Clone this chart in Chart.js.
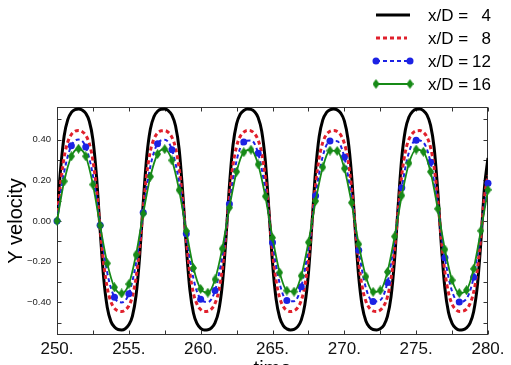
<!DOCTYPE html>
<html>
<head>
<meta charset="utf-8">
<script src="https://cdn.jsdelivr.net/npm/chart.js@4.4.0/dist/chart.umd.min.js"></script>
<style>
html,body{margin:0;padding:0;background:#fff;}
#wrap{width:511px;height:365px;position:relative;overflow:hidden;}
canvas{display:block;}
</style>
</head>
<body>
<div id="wrap"><canvas id="c" width="511" height="365"></canvas></div>
<script>
// ---- data ----
const tFine = [
250,250.25,250.5,250.75,251,251.25,251.5,251.75,
252,252.25,252.5,252.75,253,253.25,253.5,253.75,
254,254.25,254.5,254.75,255,255.25,255.5,255.75,
256,256.25,256.5,256.75,257,257.25,257.5,257.75,
258,258.25,258.5,258.75,259,259.25,259.5,259.75,
260,260.25,260.5,260.75,261,261.25,261.5,261.75,
262,262.25,262.5,262.75,263,263.25,263.5,263.75,
264,264.25,264.5,264.75,265,265.25,265.5,265.75,
266,266.25,266.5,266.75,267,267.25,267.5,267.75,
268,268.25,268.5,268.75,269,269.25,269.5,269.75,
270,270.25,270.5,270.75,271,271.25,271.5,271.75,
272,272.25,272.5,272.75,273,273.25,273.5,273.75,
274,274.25,274.5,274.75,275,275.25,275.5,275.75,
276,276.25,276.5,276.75,277,277.25,277.5,277.75,
278,278.25,278.5,278.75,279,279.25,279.5,279.75,
280];
const tHalf = [
250,250.5,251,251.5,252,252.5,253,253.5,254,254.5,
255,255.5,256,256.5,257,257.5,258,258.5,259,259.5,
260,260.5,261,261.5,262,262.5,263,263.5,264,264.5,
265,265.5,266,266.5,267,267.5,268,268.5,269,269.5,
270,270.5,271,271.5,272,272.5,273,273.5,274,274.5,
275,275.5,276,276.5,277,277.5,278,278.5,279,279.5,
280];
const velXD4 = [
0.03,0.255,0.419,0.498,0.533,0.547,0.550,0.545,
0.529,0.490,0.400,0.220,-0.043,-0.281,-0.425,-0.493,
-0.521,-0.533,-0.535,-0.529,-0.510,-0.467,-0.367,-0.177,
0.088,0.319,0.452,0.513,0.539,0.549,0.550,0.542,
0.520,0.468,0.354,0.141,-0.127,-0.338,-0.453,-0.504,
-0.527,-0.535,-0.534,-0.525,-0.500,-0.443,-0.317,-0.096,
0.171,0.372,0.477,0.524,0.543,0.550,0.548,0.537,
0.508,0.441,0.296,0.055,-0.205,-0.384,-0.474,-0.514,
-0.530,-0.535,-0.532,-0.519,-0.487,-0.412,-0.257,-0.011,
0.247,0.415,0.497,0.532,0.546,0.550,0.546,0.530,
0.492,0.404,0.229,-0.033,-0.273,-0.420,-0.491,-0.521,
-0.533,-0.535,-0.529,-0.512,-0.469,-0.373,-0.186,0.077,
0.312,0.448,0.511,0.538,0.549,0.550,0.542,0.521,
0.471,0.360,0.151,-0.117,-0.331,-0.449,-0.503,-0.526,
-0.535,-0.534,-0.525,-0.502,-0.446,-0.324,-0.107,0.162,
0.310];
const velXD8 = [
0.01,0.184,0.315,0.388,0.425,0.441,0.445,0.439,
0.421,0.380,0.298,0.157,-0.031,-0.209,-0.330,-0.396,
-0.429,-0.442,-0.445,-0.437,-0.416,-0.370,-0.280,-0.130,
0.062,0.233,0.344,0.403,0.432,0.443,0.444,0.435,
0.411,0.359,0.260,0.100,-0.093,-0.255,-0.357,-0.409,
-0.435,-0.444,-0.443,-0.432,-0.405,-0.347,-0.239,-0.070,
0.122,0.275,0.367,0.415,0.437,0.445,0.443,0.429,
0.398,0.334,0.215,0.039,-0.151,-0.294,-0.377,-0.420,
-0.439,-0.445,-0.441,-0.426,-0.391,-0.319,-0.190,-0.008,
0.177,0.311,0.386,0.424,0.441,0.445,0.440,0.422,
0.382,0.302,0.164,-0.024,-0.203,-0.326,-0.394,-0.428,
-0.442,-0.445,-0.438,-0.417,-0.373,-0.285,-0.136,0.054,
0.227,0.341,0.402,0.431,0.443,0.444,0.436,0.412,
0.362,0.265,0.107,-0.085,-0.250,-0.353,-0.408,-0.434,
-0.444,-0.443,-0.433,-0.406,-0.350,-0.244,-0.078,0.115,
0.225];
const velXD12 = [
0,0.240,0.370,0.400,0.364,0.224,-0.021,-0.255,-0.375,-0.400,
-0.357,-0.207,0.042,0.269,0.380,0.399,0.350,0.190,-0.063,-0.283,
-0.384,-0.398,-0.342,-0.172,0.084,0.296,0.388,0.396,0.333,0.153,
-0.105,-0.307,-0.391,-0.394,-0.323,-0.134,0.124,0.318,0.393,0.392,
0.313,0.114,-0.144,-0.328,-0.396,-0.389,-0.302,-0.094,0.163,0.338,
0.397,0.386,0.289,0.074,-0.181,-0.346,-0.398,-0.382,-0.276,-0.053,
0.185];
const velXD16 = [
0,0.195,0.318,0.355,0.318,0.179,-0.022,-0.208,-0.326,-0.356,
-0.310,-0.166,0.036,0.218,0.329,0.353,0.298,0.152,-0.049,-0.231,
-0.334,-0.352,-0.287,-0.136,0.066,0.242,0.338,0.350,0.278,0.121,
-0.082,-0.253,-0.342,-0.347,-0.269,-0.105,0.098,0.264,0.346,0.344,
0.258,0.090,-0.114,-0.273,-0.348,-0.341,-0.250,-0.076,0.125,0.284,
0.351,0.340,0.242,0.060,-0.140,-0.291,-0.354,-0.340,-0.235,-0.048,
0.153];
const seriesLabels = ['x/D = 4','x/D = 8','x/D = 12','x/D = 16'];
const xTickValues = [250,252.5,255,257.5,260,262.5,265,267.5,270,272.5,275,277.5,280];
const xTickLabels = ['250.','','255.','','260.','','265.','','270.','','275.','','280.'];
const yTickValues = [-0.5,-0.4,-0.3,-0.2,-0.1,0,0.1,0.2,0.3,0.4,0.5];
const yTickLabels = ['','\u22120.40','','\u22120.20','','0.00','','0.20','','0.40',''];
const xTitle = 'time';
const yTitle = 'Y velocity';

// ---- styles ----
const FONT = '"Liberation Sans", Arial, Helvetica, sans-serif';
const COLORS = ['#000000','#e0202c','#1c22e4','#178a17'];

function makeDiamond(color){
  const c = document.createElement('canvas');
  c.width = 7; c.height = 10;
  const g = c.getContext('2d');
  g.fillStyle = color;
  g.beginPath();
  g.moveTo(3.5,0); g.lineTo(7,5); g.lineTo(3.5,10); g.lineTo(0,5);
  g.closePath(); g.fill();
  return c;
}
const diamond = makeDiamond(COLORS[3]);

function pts(xs, ys){ return xs.map((x,i)=>({x:x, y:ys[i]})); }

const frameTicks = {
  id:'frameTicks',
  beforeDatasetsDraw(chart){
    const {ctx, chartArea:{left,right,top,bottom}, scales:{x,y}} = chart;
    ctx.save();
    ctx.strokeStyle = '#333'; ctx.lineWidth = 1;
    const L = Math.round(left)+0.5, R = Math.round(right)-0.5, T = Math.round(top)+0.5, B = Math.round(bottom)-0.5;
    ctx.strokeRect(L, T, R-L, B-T);
    ctx.beginPath();
    xTickValues.forEach(v=>{
      const px = Math.round(x.getPixelForValue(v))+0.5;
      ctx.moveTo(px,B); ctx.lineTo(px,B-4);
      ctx.moveTo(px,T); ctx.lineTo(px,T+4);
    });
    yTickValues.forEach(v=>{
      const py = Math.round(y.getPixelForValue(v))+0.5;
      ctx.moveTo(L,py); ctx.lineTo(L+4,py);
      ctx.moveTo(R,py); ctx.lineTo(R-4,py);
    });
    ctx.stroke();
    ctx.restore();
  },
  afterDraw(chart){
    const {ctx, chartArea:{left,right}} = chart;
    ctx.save();
    // x axis title (cut by the bottom edge, as in the reference)
    ctx.fillStyle = '#000';
    ctx.font = '20px ' + FONT;
    ctx.textAlign = 'center'; ctx.textBaseline = 'alphabetic';
    ctx.fillText(xTitle, (left+right)/2, 375);
    // legend
    const x0 = 376, x1 = 410, tx = 428, nx = 491, y0 = 15, dy = 23;
    chart.data.datasets.forEach((ds,i)=>{
      const yy = y0 + i*dy;
      ctx.strokeStyle = ds.borderColor;
      ctx.lineWidth = ds.borderWidth;
      ctx.setLineDash(ds.borderDash || []);
      ctx.beginPath(); ctx.moveTo(x0, yy); ctx.lineTo(i===1 ? 407 : x1, yy); ctx.stroke();
      ctx.setLineDash([]);
      if (i === 2){
        ctx.fillStyle = ds.borderColor;
        [x0, x1].forEach(px=>{ ctx.beginPath(); ctx.arc(px, yy, 3.5, 0, Math.PI*2); ctx.fill(); });
      } else if (i === 3){
        [x0, x1].forEach(px=>{ ctx.drawImage(diamond, px-3.5, yy-5); });
      }
      const parts = ds.label.split(' = ');
      ctx.fillStyle = '#000';
      ctx.font = '17px ' + FONT;
      ctx.textBaseline = 'middle';
      ctx.textAlign = 'left';
      ctx.fillText(parts[0] + ' =', tx, yy + 1);
      ctx.textAlign = 'right';
      ctx.fillText(parts[1], nx, yy + 1);
    });
    ctx.restore();
  }
};

new Chart(document.getElementById('c'), {
  type:'line',
  data:{
    datasets:[
      { label: seriesLabels[0], data: pts(tFine, velXD4), borderColor: COLORS[0], borderWidth: 3,
        pointRadius: 0, cubicInterpolationMode: 'monotone', order: 4 },
      { label: seriesLabels[1], data: pts(tFine, velXD8), borderColor: COLORS[1], borderWidth: 3,
        borderDash: [4,3], pointRadius: 0, cubicInterpolationMode: 'monotone', order: 3 },
      { label: seriesLabels[2], data: pts(tHalf, velXD12), borderColor: COLORS[2], borderWidth: 2,
        borderDash: [4,3], backgroundColor: COLORS[2], pointBackgroundColor: COLORS[2], pointBorderColor: COLORS[2],
        pointBorderWidth: 0, pointStyle: 'circle',
        pointRadius: (c)=> (c.dataIndex % 2 === 0 ? 3.5 : 0),
        cubicInterpolationMode: 'monotone', order: 2, clip: false },
      { label: seriesLabels[3], data: pts(tHalf, velXD16), borderColor: COLORS[3], borderWidth: 1.8,
        pointStyle: diamond, pointRadius: 4, pointBackgroundColor: COLORS[3], pointBorderColor: COLORS[3],
        cubicInterpolationMode: 'monotone', order: 1, clip: false }
    ]
  },
  options:{
    responsive:false,
    devicePixelRatio:1,
    animation:false,
    layout:{ padding:{ top:107, right:23, left:0, bottom:0 } },
    plugins:{ legend:{display:false}, tooltip:{enabled:false} },
    scales:{
      x:{
        type:'linear', min:250, max:280,
        afterBuildTicks:(s)=>{ s.ticks = xTickValues.map(v=>({value:v})); },
        afterFit:(s)=>{ s.height = 30; },
        grid:{ display:false, drawTicks:false },
        border:{ display:false },
        ticks:{ autoSkip:false, maxRotation:0, padding:4, color:'#111',
          font:{ family:FONT, size:17 },
          callback:(v,i)=> xTickLabels[i] }
      },
      y:{
        type:'linear', min:-0.56, max:0.56,
        afterBuildTicks:(s)=>{ s.ticks = yTickValues.map(v=>({value:v})); },
        afterFit:(s)=>{ s.width = 57; },
        grid:{ display:false, drawTicks:false },
        border:{ display:false },
        ticks:{ autoSkip:false, padding:6, color:'#222',
          font:{ family:FONT, size:9.5 },
          callback:(v,i)=> yTickLabels[i] },
        title:{ display:true, text:yTitle, color:'#000', font:{ family:FONT, size:20 }, padding:{top:4,bottom:4} }
      }
    }
  },
  plugins:[frameTicks]
});
</script>
</body>
</html>
